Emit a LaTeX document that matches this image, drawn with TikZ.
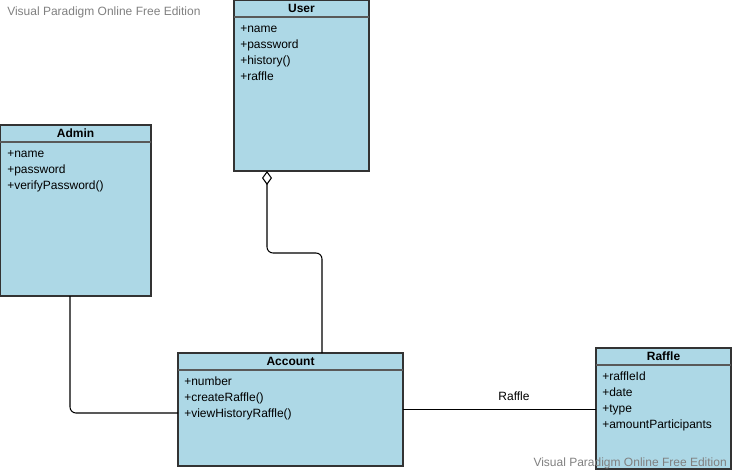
\documentclass[tikz,border=0pt]{standalone}
\usepackage{fontspec}
\setmainfont{Liberation Sans}
\usetikzlibrary{arrows.meta}

\definecolor{classblue}{HTML}{ADD8E6}
\definecolor{boxline}{HTML}{333333}

\tikzset{
  classbox/.style={rectangle, draw=boxline, fill=classblue, line width=0.8pt,
    inner sep=0pt, outer sep=0pt, anchor=north west},
  classname/.style={font=\bfseries\fontsize{9}{11}\selectfont, anchor=base, inner sep=0pt},
  attr/.style={font=\fontsize{9}{11}\selectfont, anchor=base west, inner sep=0pt},
  sepline/.style={draw=black!65, line width=0.8pt},
  link/.style={line width=0.8pt, rounded corners=4.5pt},
  watermark/.style={text=black!50, font=\fontsize{9}{11}\selectfont, inner sep=0pt}
}

\begin{document}
\begin{tikzpicture}[x=0.75pt, y=-0.75pt]

			\useasboundingbox (0,0) rectangle (732,472);

			% User
			\node[classbox, minimum width=101.25pt, minimum height=128.25pt]
			(User) at (234,0) {};
			\node[classname] (User-title) at (301.5,12.5) {User};
			\draw[sepline] (234,17) -- (369,17);
			\foreach \a [count=\i] in {+name,+password,+history(),+raffle}
			  \node[attr] (User-a\i) at (240,16+16*\i) {\a};

			% Admin
			\node[classbox, minimum width=113.25pt, minimum height=128.25pt]
			(Admin) at (0,125) {};
			\node[classname] (Admin-title) at (75.5,137.5) {Admin};
			\draw[sepline] (0,142) -- (151,142);
			\foreach \a [count=\i] in {+name,+password,+verifyPassword()}
			  \node[attr] (Admin-a\i) at (7,141+16*\i) {\a};

			% Account
			\node[classbox, minimum width=168.75pt, minimum height=84.75pt]
			(Account) at (178,353) {};
			\node[classname] (Account-title) at (290.5,365.5) {Account};
			\draw[sepline] (178,370) -- (403,370);
			\foreach \a [count=\i] in {+number,+createRaffle(),+viewHistoryRaffle()}
			  \node[attr] (Account-a\i) at (184,369+16*\i) {\a};

			% Raffle
			\node[classbox, minimum width=101.25pt, minimum height=90.75pt]
			(Raffle) at (596,348) {};
			\node[classname] (Raffle-title) at (663.5,360.5) {Raffle};
			\draw[sepline] (596,365) -- (731,365);
			\foreach \a [count=\i] in {+raffleId,+date,+type,+amountParticipants}
			  \node[attr] (Raffle-a\i) at (602,364+16*\i) {\a};

			% connectors
			\draw[link, {Diamond[open, length=10.5pt, width=7.5pt]}-]
			(267,0 |- User.south) -- (267,253) -- (322,253) -- (322,0 |- Account.north);
			\draw[link] (70,0 |- Admin.south) -- (70,413) -- (Account.west |- 0,413);
			\draw[link] (Account.east) -- (Raffle.west |- Account.east)
			node[pos=0.575, above=6pt, inner sep=0pt, font=\fontsize{9}{11}\selectfont] (link-label) {Raffle};

			% watermarks
			\node[watermark, anchor=west] (wm-top) at (7,12) {Visual Paradigm Online Free Edition};
			\node[watermark, anchor=east] (wm-bottom) at (727,463) {Visual Paradigm Online Free Edition};

\end{tikzpicture}
\end{document}
